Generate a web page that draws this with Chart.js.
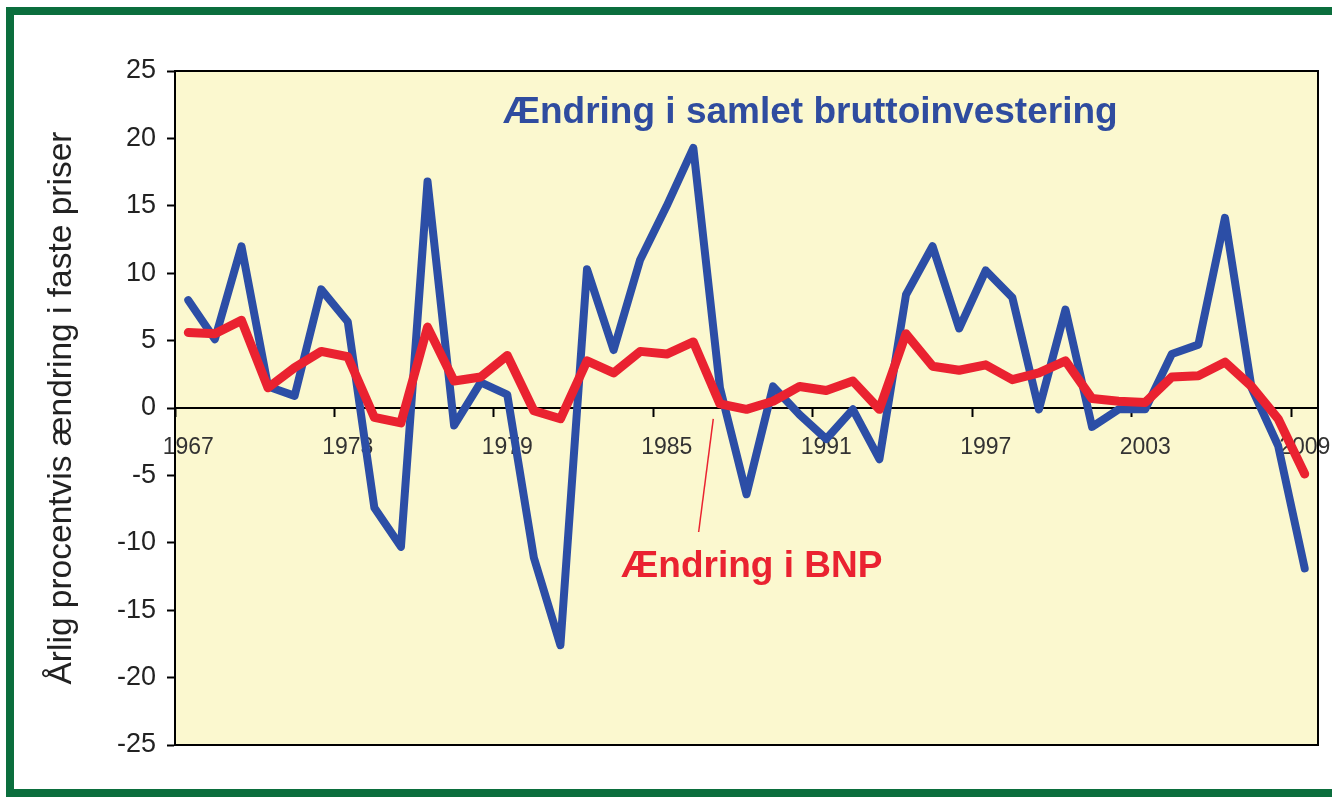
<!DOCTYPE html>
<html>
<head>
<meta charset="utf-8">
<script src="https://cdn.jsdelivr.net/npm/chart.js@4.4.1/dist/chart.umd.min.js"></script>
<style>
html,body{margin:0;padding:0;background:#fff;width:1332px;height:800px;overflow:hidden}
#frame{position:absolute;left:6px;top:7px;width:1340px;height:774px;border:8px solid #0b6e3d;border-right:none}
#wrap{position:absolute;left:0;top:0;width:1332px;height:800px}
</style>
</head>
<body>
<div id="frame"></div>
<div id="wrap"><canvas id="c" width="1332" height="800"></canvas></div>
<script>
const years = ['1967','1968','1969','1970','1971','1972','1973','1974','1975','1976',
  '1977','1978','1979','1980','1981','1982','1983','1984','1985','1986',
  '1987','1988','1989','1990','1991','1992','1993','1994','1995','1996',
  '1997','1998','1999','2000','2001','2002','2003','2004','2005','2006',
  '2007','2008','2009'];

const investment = [8.0, 5.1, 12.0, 1.6, 0.9, 8.8, 6.4, -7.4, -10.3, 16.8,
  -1.3, 1.9, 1.0, -11.1, -17.6, 10.3, 4.3, 11.0, 15.0, 19.3,
  1.5, -6.4, 1.6, -0.5, -2.3, -0.1, -3.8, 8.4, 12.0, 5.9,
  10.2, 8.2, -0.1, 7.3, -1.4, -0.1, -0.1, 4.0, 4.7, 14.1,
  1.5, -2.8, -11.9];

const gdp = [5.6, 5.5, 6.5, 1.5, 3.0, 4.2, 3.8, -0.7, -1.1, 6.0,
  2.0, 2.3, 3.9, -0.2, -0.8, 3.5, 2.6, 4.2, 4.0, 4.9,
  0.3, -0.1, 0.5, 1.6, 1.3, 2.0, -0.1, 5.5, 3.1, 2.8,
  3.2, 2.1, 2.6, 3.5, 0.7, 0.5, 0.4, 2.3, 2.4, 3.4,
  1.6, -0.8, -4.9];

const xTickLabels = ['1967','1973','1979','1985','1991','1997','2003','2009'];
const yTickValues = [-25, -20, -15, -10, -5, 0, 5, 10, 15, 20, 25];

const seriesNames = ['Ændring i samlet bruttoinvestering', 'Ændring i BNP'];
const yTitle = 'Årlig procentvis ændring i faste priser';

const FONT = '"Liberation Sans", Arial, sans-serif';
const BLUE = '#2c4ea6';
const RED = '#ea2230';

const decor = {
  id: 'decor',
  beforeDraw(chart) {
    const {ctx, chartArea: a} = chart;
    ctx.save();
    ctx.fillStyle = '#fbf8cf';
    ctx.fillRect(a.left, a.top, a.right - a.left, a.bottom - a.top);
    ctx.restore();
  },
  afterDatasetsDraw(chart) {
    const {ctx} = chart;
    const xs = chart.scales.x, ys = chart.scales.y;
    ctx.save();
    ctx.strokeStyle = RED;
    ctx.lineWidth = 1.5;
    ctx.beginPath();
    ctx.moveTo(xs.getPixelForValue(19.75), ys.getPixelForValue(-0.8));
    ctx.lineTo(xs.getPixelForValue(19.2), ys.getPixelForValue(-9.2));
    ctx.stroke();
    ctx.textAlign = 'center';
    ctx.textBaseline = 'middle';
    ctx.font = 'bold 37px ' + FONT;
    ctx.fillStyle = '#2f4c9f';
    ctx.fillText(seriesNames[0], xs.getPixelForValue(23.4), ys.getPixelForValue(21.9));
    ctx.fillStyle = RED;
    ctx.fillText(seriesNames[1], xs.getPixelForValue(21.2), ys.getPixelForValue(-11.8));
    ctx.restore();
  },
  afterDraw(chart) {
    const {ctx, chartArea: a} = chart;
    ctx.save();
    ctx.strokeStyle = '#000';
    ctx.lineWidth = 2;
    ctx.strokeRect(a.left, a.top, a.right - a.left, a.bottom - a.top);
    ctx.restore();
  }
};

new Chart(document.getElementById('c'), {
  type: 'line',
  data: {
    labels: years,
    datasets: [
      {label: seriesNames[1], data: gdp, borderColor: RED, borderWidth: 9, order: 0},
      {label: seriesNames[0], data: investment, borderColor: BLUE, borderWidth: 8, order: 1}
    ]
  },
  options: {
    responsive: false,
    animation: false,
    devicePixelRatio: 1,
    layout: {padding: {left: 40, top: 71, right: 14, bottom: 55}},
    elements: {
      line: {tension: 0, borderJoinStyle: 'round', borderCapStyle: 'round', fill: false},
      point: {radius: 0, hoverRadius: 0}
    },
    plugins: {legend: {display: false}, tooltip: {enabled: false}},
    scales: {
      x: {
        type: 'category',
        position: {y: 0},
        offset: true,
        grid: {
          offset: true, drawOnChartArea: false, drawTicks: true, tickLength: 8, tickWidth: 2,
          tickColor: c => (c.index % 6 === 0 ? '#000' : 'rgba(0,0,0,0)')
        },
        border: {display: true, color: '#000', width: 2},
        ticks: {
          autoSkip: false, maxRotation: 0, minRotation: 0, padding: 18,
          color: '#333', font: {family: FONT, size: 23},
          callback: function (v) {
            const l = this.getLabelForValue(v);
            return xTickLabels.includes(l) ? l : '';
          }
        },
        afterFit: s => { s.paddingLeft = 0; s.paddingRight = 0; }
      },
      y: {
        min: -25, max: 25,
        afterBuildTicks: s => { s.ticks = yTickValues.map(v => ({value: v})); },
        ticks: {color: '#222', font: {family: FONT, size: 27}, padding: 11},
        grid: {drawOnChartArea: false, drawTicks: true, tickLength: 8, tickWidth: 2, tickColor: '#000'},
        border: {color: '#000', width: 2},
        title: {display: true, text: yTitle, color: '#222', font: {family: FONT, size: 33.5, lineHeight: 1.2}, padding: {top: 2, bottom: 0}},
        afterFit: s => { s.width = 135; s.paddingTop = 0; s.paddingBottom = 0; }
      }
    }
  },
  plugins: [decor]
});
</script>
</body>
</html>
